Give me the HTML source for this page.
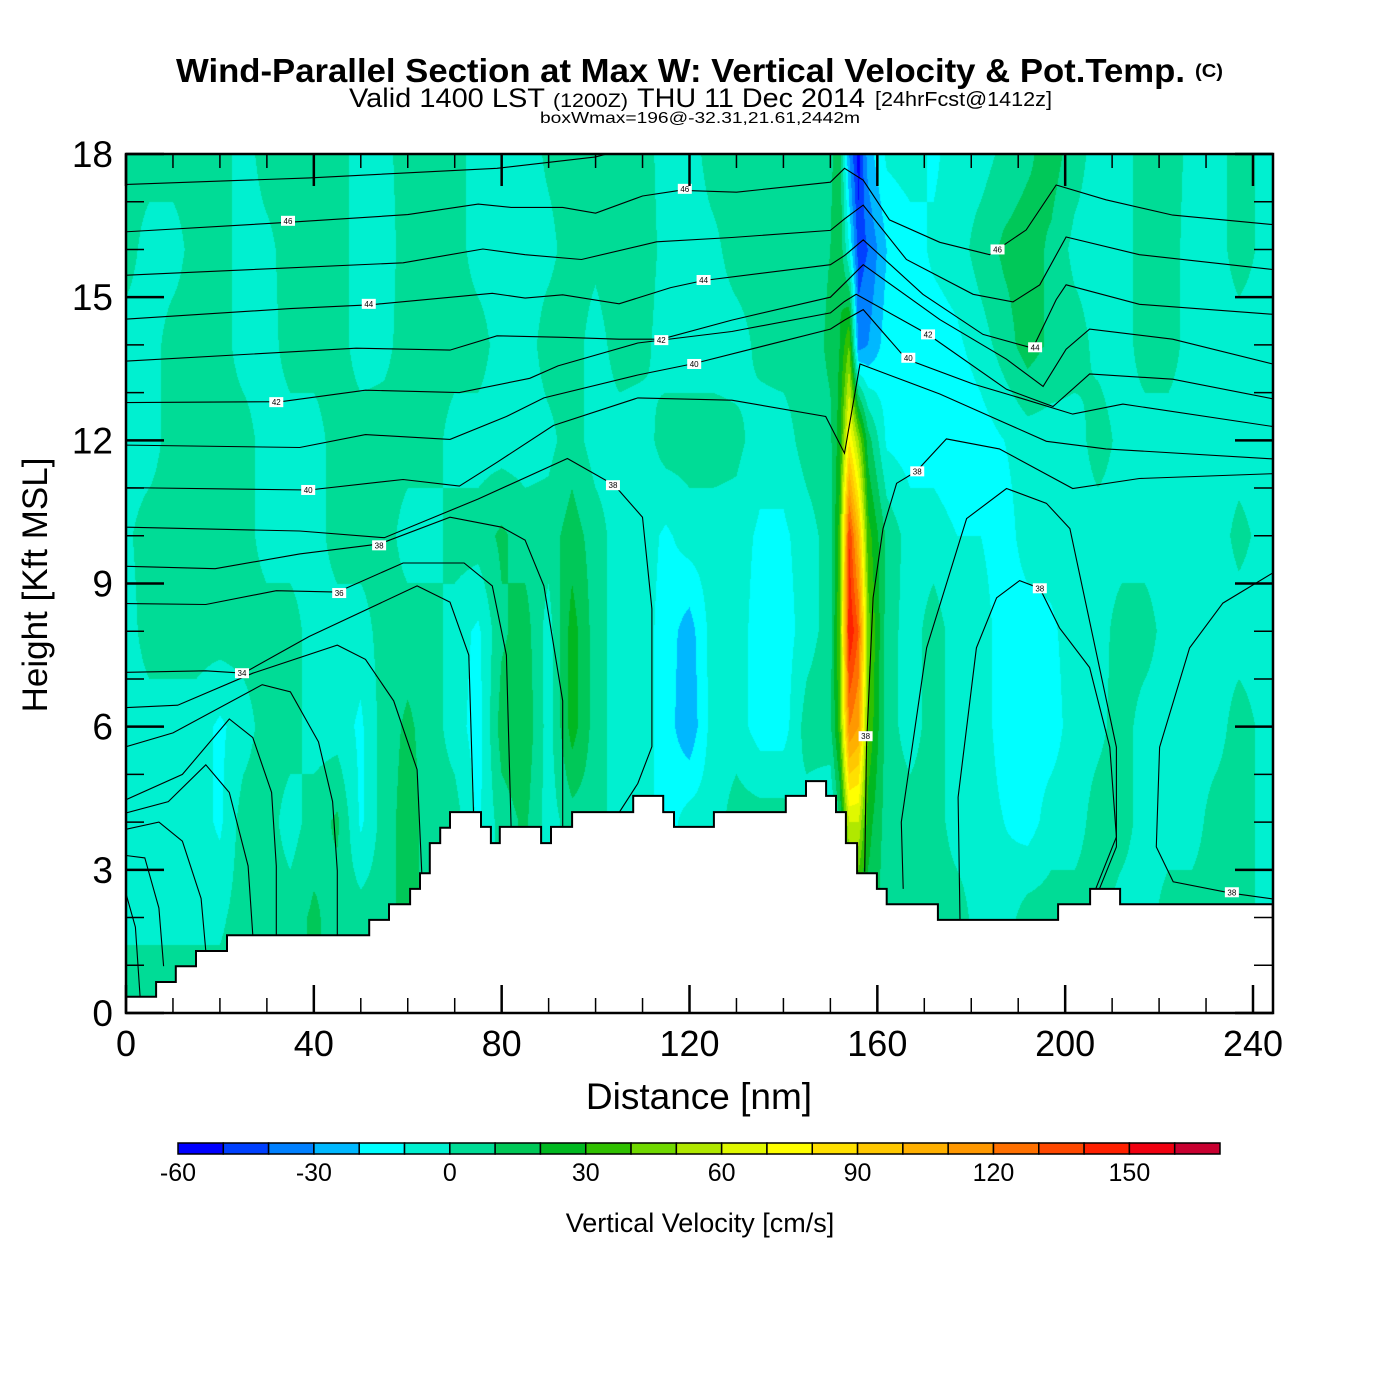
<!DOCTYPE html>
<html><head><meta charset="utf-8">
<style>
body{margin:0;background:#fff;width:1400px;height:1400px;overflow:hidden;font-family:"Liberation Sans",Arial,sans-serif}
#wrap{position:relative;width:1400px;height:1400px}
#fill{position:absolute;left:126px;top:154px}
#chart{position:absolute;left:0;top:0}
</style></head>
<body><div id="wrap">
<canvas id="fill" width="1147" height="859"></canvas>
<svg id="chart" width="1400" height="1400" xmlns="http://www.w3.org/2000/svg">
<defs><clipPath id="plotclip"><rect x="126" y="154" width="1147" height="859"/></clipPath></defs>
<text x="176" y="82" font-size="33" font-weight="bold" textLength="1009" lengthAdjust="spacingAndGlyphs">Wind-Parallel Section at Max W: Vertical Velocity &amp; Pot.Temp.</text>
<text x="1195" y="77" font-size="18" font-weight="bold" textLength="28" lengthAdjust="spacingAndGlyphs">(C)</text>
<text x="349" y="107" font-size="27" textLength="196" lengthAdjust="spacingAndGlyphs">Valid 1400 LST</text>
<text x="553" y="107" font-size="19" textLength="75" lengthAdjust="spacingAndGlyphs">(1200Z)</text>
<text x="637" y="107" font-size="27" textLength="228" lengthAdjust="spacingAndGlyphs">THU 11 Dec 2014</text>
<text x="875" y="106" font-size="20" textLength="177" lengthAdjust="spacingAndGlyphs">[24hrFcst@1412z]</text>
<text x="540" y="123" font-size="16" textLength="320" lengthAdjust="spacingAndGlyphs">boxWmax=196@-32.31,21.61,2442m</text>
<g id="contours" clip-path="url(#plotclip)"></g>
<g id="terrain"></g>
<g id="clabels"></g>
<g id="axes"></g>
<text x="699" y="1109" font-size="37" text-anchor="middle">Distance [nm]</text>
<text transform="translate(47,585) rotate(-90)" font-size="35" text-anchor="middle">Height [Kft MSL]</text>
<g id="cbar"></g>
<text x="700" y="1232" font-size="27" text-anchor="middle">Vertical Velocity [cm/s]</text>
</svg>
</div>
<script>
// ---- data ----
const dists = [0,5,10,15,20,25,30,35,40,45,50,55,60,65,70,75,80,85,90,95,100,105,110,115,120,125,130,135,140,145,150,152,154,156,158,162,167,172,177,182,187,192,197,202,207,212,217,222,227,232,237,244];
const rowHeights = [0,2,4,6,8,10,12,14,16,18];
const wAt0  = [5,5,5,5,5,5,5,5,12,5,5,5,15,5,5,-12,5,12,-5,5,5,-5,-5,-15,-5,-5,5,5,5,-5,-12,10,20,20,15,5,5,5,5,-5,-5,5,5,5,5,-5,-5,5,5,5,5,-5];
const wAt2  = [-2,-2,-2,-2,-2,5,5,5,12,5,5,5,15,5,5,-12,5,12,-5,5,5,-5,-5,-15,-5,-5,5,5,5,-5,-12,10,20,20,15,5,5,5,5,-5,-5,5,5,5,5,-5,-5,5,5,5,5,-5];
const wAt4  = [-5,-5,-5,-5,-12,5,5,-5,5,12,-12,5,15,5,5,-12,5,12,-5,5,5,-5,-5,-15,-5,-5,5,5,5,-5,-12,10,60,60,25,5,5,5,-5,-5,-10,-15,-5,-5,5,5,-5,-5,-5,5,5,-5];
const wAt6  = [-5,-5,-5,-5,-12,-5,5,5,-5,-5,-12,5,12,5,-5,-15,15,18,-5,25,5,-5,-5,-15,-28,-5,-5,-15,-15,5,8,35,120,110,40,5,-5,5,-5,-5,-15,-15,-15,-5,-3,5,-5,-5,-5,-5,5,-5];
const wAt8  = [-5,5,5,5,5,5,5,5,-5,-5,-5,5,5,5,-5,-12,8,15,-5,25,5,-5,-5,-15,-25,-5,-5,-15,-15,-5,5,40,150,130,45,5,-5,5,-5,-5,-15,-15,-12,-5,-5,5,5,-5,-5,-5,-5,-5];
const wAt10 = [-2,5,5,5,5,5,-5,-5,-5,5,5,5,-5,-5,5,5,12,5,5,15,5,-5,-5,-12,-5,-5,-5,-12,-12,-5,5,35,140,100,35,8,-5,-5,-10,-10,-15,-5,-5,-5,-5,-5,-5,-5,-5,-5,3,-5];
const wAt12 = [-5,-5,5,5,5,5,-5,-5,-5,5,5,5,5,5,-5,-5,-5,-5,-3,5,-5,-5,-5,5,5,5,3,-5,-5,5,8,25,80,50,15,-12,-15,-15,-18,-15,-10,-5,-5,-5,5,-3,-5,-5,-5,-5,-5,-5];
const wAt14 = [-5,-5,5,5,5,-5,-5,5,5,5,-5,-3,5,5,5,5,-5,-5,5,5,-5,5,3,-5,-5,-5,-5,3,5,5,12,20,40,-35,-30,-15,-12,-15,-12,-5,5,15,8,5,-3,-5,5,5,-5,-5,-5,-5];
const wAt16 = [5,-5,-5,5,5,-5,-3,5,5,5,-5,-5,5,5,5,-5,-5,-5,-3,5,3,8,5,-3,-5,-3,5,5,5,5,10,18,-10,-45,-40,-20,-15,-8,-5,5,12,15,8,-3,-5,-5,5,5,-5,-5,5,-5];
const wAt18 = [5,5,5,5,5,-5,5,5,5,5,-5,-3,5,5,5,-5,-5,-5,2,5,5,8,5,-5,-5,5,5,5,5,5,8,15,-30,-55,-25,-8,-5,-12,-5,-5,3,8,15,5,-5,-5,5,5,-3,-5,5,-5];
const wGrid = [wAt0,wAt2,wAt4,wAt6,wAt8,wAt10,wAt12,wAt14,wAt16,wAt18];

const binLevels = [-60,-50,-40,-30,-20,-10,0,10,20,30,40,50,60,70,80,90,100,110,120,130,140,150,160];
const binColors = ["#0000ff","#0040ff","#0080ff","#00b8ff","#00ffff","#00f0d0","#00dc96","#00c858","#00b820","#30c000","#70d800","#b0e800","#e0f800","#ffff00","#ffe000","#ffc800","#ffb000","#ff9800","#ff7000","#ff4800","#ff2000","#f00010","#c80030"];
const cbarTicks = [-60,-30,0,30,60,90,120,150];

const xTicks = [0,40,80,120,160,200,240];
const yTicks = [0,3,6,9,12,15,18];

const terrStart = [0,6.4,10.6,14.9,21.5,51.8,56.0,60.5,62.6,64.7,66.9,69.0,75.6,77.7,79.6,88.4,90.5,95,108,114.4,116.7,125.2,140.5,144.8,149.1,151.2,153.3,155.7,159.9,162,172.9,198.5,205.3,211.7];
const terrTop   = [0.34,0.65,0.98,1.30,1.63,1.95,2.28,2.60,2.93,3.56,3.88,4.21,3.90,3.56,3.90,3.56,3.90,4.21,4.55,4.21,3.90,4.21,4.55,4.86,4.55,4.21,3.56,2.93,2.60,2.28,1.95,2.28,2.60,2.28];
const terrEnd = 244.2;

const thetaLines = [
 {d:[0,39,79,100,110], h:[17.36,17.5,17.7,17.94,18.2]},
 {d:[0,35,60,75,82,93,100,110,118,130,150,153,157,162.6,173.3,183.9,191.7,198.1,208.7,222.9,244.2], h:[16.37,16.57,16.73,16.95,16.88,16.88,16.76,17.12,17.24,17.2,17.41,17.7,17.45,16.62,16.15,15.89,16.41,17.35,17.04,16.72,16.52]},
 {d:[0,59,76,85,97,113,129,150,153,157,166.2,180.4,188.9,194.6,200.2,215.8,244.2], h:[15.46,15.72,16.01,15.89,15.79,16.16,16.25,16.4,16.64,16.93,15.79,15.06,14.9,15.26,16.26,15.89,15.58]},
 {d:[0,35,52,78,85,93,105,116,123,150,153,157,169.7,182.5,193.1,198.1,200.2,215.8,244.2], h:[14.54,14.76,14.84,15.08,14.98,15.05,14.86,15.2,15.35,15.68,15.87,16.2,15.06,14.22,13.93,14.95,15.26,14.85,14.64]},
 {d:[0,49,69,79,93,105,114,129,150,153,157,173.3,187.5,195.3,200.2,205.2,222.9,244.2], h:[13.66,13.93,13.89,14.19,14.16,14.12,14.12,14.52,15.0,15.29,15.68,14.53,13.7,13.13,13.91,14.33,14.12,13.6]},
 {d:[0,33,51,71,86,92,109,129,150,153,155.5,170.8,187.5,197.4,205.2,222.9,244.2], h:[12.79,12.81,13.05,13.0,13.3,13.56,14.04,14.28,14.67,14.91,15.06,14.22,13.07,12.71,13.39,13.28,12.87]},
 {d:[0,37,51,69,81,89,109,121,150,153,157,166.2,180.4,191,201.6,212.3,244.2], h:[11.9,11.85,12.12,12.02,12.5,12.89,13.37,13.61,14.33,14.52,14.74,13.7,13.18,12.87,12.55,12.76,12.29]},
 {d:[0,39,59,71,79,91,109,129,149,153,156.3,173.3,187.5,196,208.7,244.2], h:[11.01,10.96,11.18,11.04,11.54,12.31,12.89,12.84,12.5,11.73,13.6,12.97,12.35,11.98,11.82,11.61]},
 {d:[0,37,55,75,94,104,110,112,112,109,105], h:[10.18,10.1,9.96,10.77,11.62,11.06,10.39,8.47,5.58,4.81,4.2]},
 {d:[0,19,37,54,69,80,85,89,93,93], h:[9.36,9.31,9.62,9.83,10.39,10.18,9.91,8.95,6.54,3.9]},
 {d:[0,17,32,45,59,72,78,81,82], h:[8.58,8.56,8.85,8.82,9.43,9.43,8.95,7.5,3.9]},
 {d:[0,17,25,39,62,69,73,74], h:[7.14,7.17,7.12,7.89,8.95,8.61,7.5,4.21]},
 {d:[0,11,27,45,51,57,62,63], h:[6.4,6.45,7.12,7.71,7.41,6.54,5.1,2.93]},
 {d:[0,10,29,35,41,44,45,45], h:[5.58,5.87,6.88,6.73,5.68,4.43,2.98,1.63]},
 {d:[0,12,22,27,31,32,32], h:[4.47,5.0,6.16,5.77,4.62,3.08,1.63]},
 {d:[0,9,17,22,26,27], h:[4.19,4.43,5.2,4.62,3.08,1.63]},
 {d:[0,7,12,16,17], h:[3.85,4.0,3.6,2.4,1.3]},
 {d:[0,4,7,8], h:[3.3,3.25,2.2,0.98]},
 {d:[0,2,3], h:[2.5,1.8,0.34]},
 {d:[157.3,157.7,159.1,161.2,164.1,168.3,174.7,186,201.6,215.8,244.2], h:[2.96,5.57,8.7,10.15,11.1,11.35,12.03,11.82,10.99,11.2,11.3]},
 {d:[165.5,165.1,170.5,179,187.5,196,201,210.9,210.9,207.3], h:[2.6,4.0,7.65,10.36,10.99,10.68,10.15,5.57,3.48,2.6]},
 {d:[177.6,177.2,181.1,185.4,190.3,194.6,198.8,205.2,209.5,210.9,205.2], h:[1.95,4.52,7.65,8.7,9.06,8.9,8.07,7.24,5.57,3.69,2.28]},
 {d:[244.2,233.6,226.5,220.1,219.4,223,235.4,244.2], h:[9.22,8.59,7.65,5.57,3.48,2.75,2.51,2.39]}
];
const labelText = ["46","46","46","44","44","44","42","42","42","40","40","40","38","38","38","38","38","38","36","34"];
const labelD = [34.5,119,185.6,51.7,123,193.6,32,114,170.8,38.8,121,166.6,53.9,103.7,168.5,157.5,194.6,235.5,45.4,24.7];
const labelH = [16.6,17.27,16.0,14.86,15.36,13.95,12.8,14.1,14.22,10.96,13.6,13.73,9.8,11.06,11.35,5.8,8.9,2.53,8.8,7.12];

// ---- scales ----
const X0=126, X1=1273, Y0=1013, Y1=154;
function xS(d){ return X0 + d*(1127/240); }
function yS(h){ return Y0 - h*(859/18); }
const NS="http://www.w3.org/2000/svg";
function mk(tag, attrs, parent){ const e=document.createElementNS(NS,tag); for(const k in attrs) e.setAttribute(k,attrs[k]); parent.appendChild(e); return e; }

// ---- fill ----
function sample(d,h){
  let i=0; while(i<dists.length-2 && dists[i+1]<d) i++;
  let tx=(d-dists[i])/(dists[i+1]-dists[i]); tx=Math.max(0,Math.min(1,tx));
  let j=Math.min(rowHeights.length-2, Math.max(0, Math.floor(h/2)));
  let ty=(h-rowHeights[j])/(rowHeights[j+1]-rowHeights[j]); ty=Math.max(0,Math.min(1,ty));
  const a=wGrid[j][i], b=wGrid[j][i+1], c=wGrid[j+1][i], e=wGrid[j+1][i+1];
  return (a*(1-tx)+b*tx)*(1-ty) + (c*(1-tx)+e*tx)*ty;
}
const rgbCache = binColors.map(c=>[parseInt(c.slice(1,3),16),parseInt(c.slice(3,5),16),parseInt(c.slice(5,7),16)]);
(function(){
  const cv=document.getElementById('fill'), ctx=cv.getContext('2d');
  const W=cv.width,H=cv.height, img=ctx.createImageData(W,H);
  for(let py=0;py<H;py++){
    const h=(Y0-(py+154+0.5))*18/859;
    for(let px=0;px<W;px++){
      const d=(px+0.5)*240/1127;
      const v=sample(d,h);
      let k=Math.floor((v-binLevels[0])/10); k=Math.max(0,Math.min(binColors.length-1,k));
      const c=rgbCache[k], o=(py*W+px)*4;
      img.data[o]=c[0]; img.data[o+1]=c[1]; img.data[o+2]=c[2]; img.data[o+3]=255;
    }
  }
  ctx.putImageData(img,0,0);
})();

// ---- contours ----
const gC=document.getElementById('contours');
thetaLines.forEach((ln,idx)=>{
  let p='';
  for(let k=0;k<ln.d.length;k++) p+=(k?'L':'M')+xS(ln.d[k]).toFixed(1)+','+yS(ln.h[k]).toFixed(1);
  const e=mk('path',{d:p,fill:'none',stroke:'#000','stroke-width':'1.1'},gC);
  
  
});

// ---- terrain ----
const gT=document.getElementById('terrain');
(function(){
  let p='M'+xS(0)+','+Y0;
  for(let k=0;k<terrStart.length;k++){
    const end = k<terrStart.length-1 ? terrStart[k+1] : terrEnd;
    p+='L'+xS(terrStart[k]).toFixed(1)+','+yS(terrTop[k]).toFixed(1)+'L'+xS(end).toFixed(1)+','+yS(terrTop[k]).toFixed(1);
  }
  p+='L'+X1+','+Y0+'Z';
  const e=mk('path',{d:p,fill:'#fff',stroke:'#000','stroke-width':'2'},gT);
  
  
})();

// ---- contour labels ----
const gL=document.getElementById('clabels');
labelText.forEach((t,k)=>{
  const x=xS(labelD[k]), y=yS(labelH[k]);
  const r=mk('rect',{x:x-7,y:y-5,width:14,height:10,fill:'#fff'},gL);
  
  
  const tx=mk('text',{x:x,y:y+3,'font-size':'8','text-anchor':'middle'},gL);
  
  
  tx.textContent=t;
});

// ---- axes ----
const gA=document.getElementById('axes');
for(let d=0; d<=240; d+=10){
  const major = xTicks.indexOf(d)>=0, x=xS(d);
  const tb=mk('line',{x1:x,x2:x,y1:Y0,y2:Y0-(major?28:15),stroke:'#000','stroke-width':major?2.5:1.5},gA);
  
  
  const tt=mk('line',{x1:x,x2:x,y1:Y1,y2:Y1+(major?32:14),stroke:'#000','stroke-width':major?2.5:1.5},gA);
  
  
}
xTicks.forEach(d=>{
  const t=mk('text',{x:xS(d),y:1056,'font-size':'36','text-anchor':'middle'},gA);
  
  
  t.textContent=d;
});
for(let h=0; h<=18; h+=1){
  const major = yTicks.indexOf(h)>=0, y=yS(h);
  const l=mk('line',{x1:X0,x2:X0+(major?38:18),y1:y,y2:y,stroke:'#000','stroke-width':major?2.5:1.5},gA);
  
  
  const r=mk('line',{x1:X1,x2:X1-(major?38:19),y1:y,y2:y,stroke:'#000','stroke-width':major?2.5:1.5},gA);
  
  
}
yTicks.forEach(h=>{
  const t=mk('text',{x:113,y:yS(h)+13,'font-size':'37','text-anchor':'end'},gA);
  
  
  t.textContent=h;
});
const fr=mk('rect',{x:X0,y:Y1,width:X1-X0,height:Y0-Y1,fill:'none',stroke:'#000','stroke-width':'2.5'},gA);



// ---- colorbar ----
const gB=document.getElementById('cbar');
const CB0=178, CB1=1220, cbw=(CB1-CB0)/binColors.length;
binColors.forEach((c,k)=>{
  const r=mk('rect',{x:CB0+k*cbw,y:1143,width:cbw,height:11,fill:c,stroke:'#000','stroke-width':'1.5'},gB);
  
  
});
cbarTicks.forEach(v=>{
  const k=binLevels.indexOf(v);
  const t=mk('text',{x:CB0+k*cbw,y:1181,'font-size':'25','text-anchor':'middle'},gB);
  
  
  t.textContent=v;
});
</script>
</body></html>
